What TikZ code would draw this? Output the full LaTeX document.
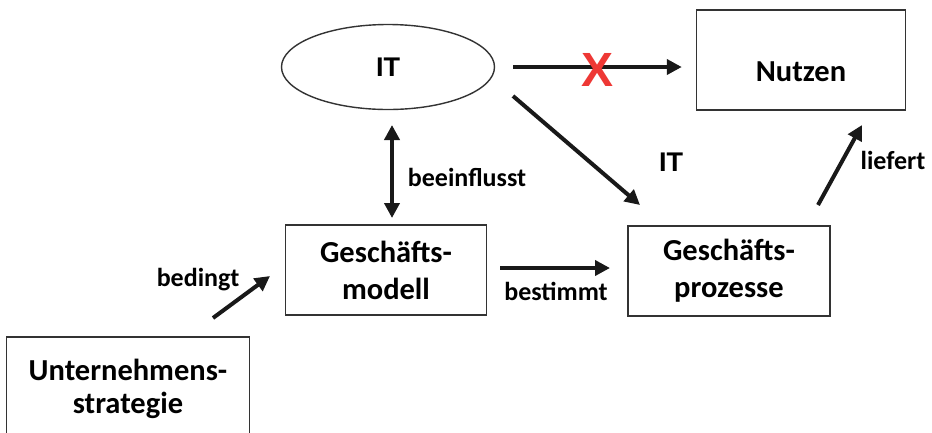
\documentclass[tikz,border=0pt]{standalone}
\usepackage{fontspec}
\setmainfont{Carlito}
\newfontfamily\itfont{Liberation Sans}
\usetikzlibrary{arrows.meta,shapes.geometric,calc}
\definecolor{boxline}{HTML}{333333}
\definecolor{xred}{HTML}{EE3835}
\begin{document}
\begin{tikzpicture}[x=1pt,y=-1pt,
  box/.style={draw=boxline,line width=1.4pt,align=center,inner sep=0pt,
    font=\bfseries\fontsize{30.5}{37}\selectfont},
  arr/.style={line width=4pt,draw=black!90,-{Triangle[length=15pt,width=15pt]}},
  darr/.style={line width=4pt,draw=black!90,{Triangle[length=15pt,width=15pt]}-{Triangle[length=15pt,width=15pt]}},
  lbl/.style={font=\bfseries\fontsize{26}{30}\selectfont,inner sep=0pt}]
\useasboundingbox (0,0) rectangle (932,432);
\fill[white] (0,0) rectangle (932,432);
\node[box,ellipse,minimum width=213pt,minimum height=85pt,font=\itfont\bfseries\fontsize{27}{30}\selectfont] (it) at (388,67) {IT};
\node[box,minimum width=209pt,minimum height=100pt] (nutzen) at (801,60) {};
\node[font=\bfseries\fontsize{30.5}{37}\selectfont,inner sep=0pt] (nt) at ([yshift=-12pt]nutzen.center) {Nutzen};
\node[box,minimum width=201pt,minimum height=90pt] (gm) at (386,270) {Geschäfts-\\modell};
\node[box,minimum width=202pt,minimum height=90pt] (gp) at (729,271) {Geschäfts-\\prozesse};
\node[box,minimum width=243pt,minimum height=104pt,font=\bfseries\fontsize{30.5}{33}\selectfont] (us) at (128,389) {Unternehmens-\\strategie};
% arrows
\draw[arr] ([xshift=18pt]it.east) -- ([xshift=-14pt]it.east -| nutzen.west);
\node[font=\itfont\bfseries\fontsize{48}{50}\selectfont,text=xred,inner sep=0pt] (x) at (598,70) {X};
\draw[arr] ([shift={(125,29)}]it.center) -- ([shift={(-89,-66)}]gp.center);
\draw[darr] ([shift={(4,58)}]it.center) -- ([shift={(6,-52)}]gm.center);
\draw[arr] ([shift={(114,-2)}]gm.center) -- ([shift={(-119,-3)}]gp.center);
\draw[arr] ([shift={(89,-66)}]gp.center) -- ([shift={(61,65)}]nutzen.center);
\draw[arr] ([shift={(85,-71)}]us.center) -- ([shift={(-116,6)}]gm.center);
% labels
\node[lbl] (l1) at (467,177) {beeinflusst};
\node[lbl,font=\itfont\bfseries\fontsize{27}{30}\selectfont] (l2) at (671,162) {IT};
\node[lbl] (l3) at (556,291) {bestimmt};
\node[lbl] (l4) at (893,160) {liefert};
\node[lbl] (l5) at (198,280) {bedingt};
\end{tikzpicture}
\end{document}
